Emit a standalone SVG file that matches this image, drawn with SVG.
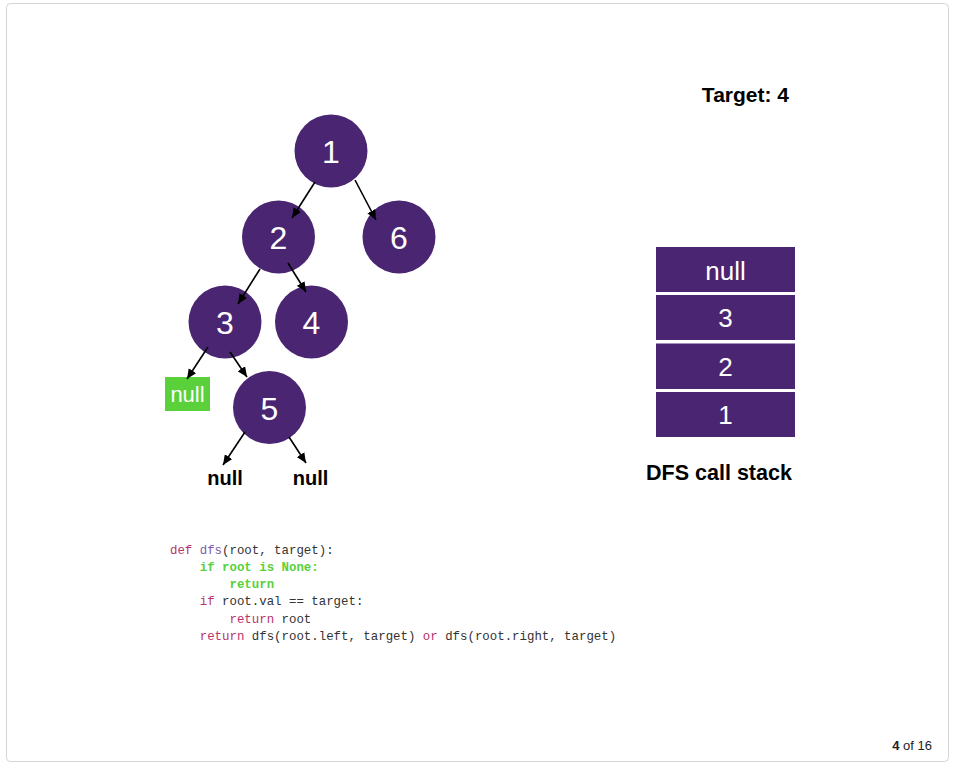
<svg xmlns="http://www.w3.org/2000/svg" width="953" height="768" viewBox="0 0 953 768">
<defs>
<marker id="ah" markerUnits="userSpaceOnUse" markerWidth="10" markerHeight="9" refX="10" refY="4.5" orient="auto">
<path d="M0,0 L10,4.5 L0,9 z" fill="#000"/>
</marker>
<style>
.node circle{fill:#4a2571;}
.node text{fill:#fff;font-family:"Liberation Sans",Arial,sans-serif;font-size:32px;text-anchor:middle;}
.edge{stroke:#000;stroke-width:1.6;fill:none;marker-end:url(#ah);}
.lbl{font-family:"Liberation Sans",Arial,sans-serif;font-weight:bold;fill:#000;}
.stk rect{fill:#4a2571;}
.stk text{fill:#fff;font-family:"Liberation Sans",Arial,sans-serif;font-size:26px;text-anchor:middle;}
.code{font-family:"Liberation Mono","DejaVu Sans Mono",monospace;font-size:12.4px;fill:#333;white-space:pre;}
.kw{fill:#b8336a;}
.fn{fill:#7e5ba6;}
.gr{fill:#5ad13a;font-weight:bold;}
</style>
</defs>
<rect x="6.5" y="3.5" width="942" height="758" rx="4" fill="#fff" stroke="#d4d4d4" stroke-width="1"/>

<g id="node1" class="node"><circle cx="331" cy="151" r="36.5"/><text x="331" y="163">1</text></g>
<g id="node2" class="node"><circle cx="278.5" cy="237" r="36.5"/><text x="278.5" y="249">2</text></g>
<g id="node6" class="node"><circle cx="399" cy="237" r="36.5"/><text x="399" y="249">6</text></g>
<g id="node3" class="node"><circle cx="225" cy="322" r="36.5"/><text x="225" y="334">3</text></g>
<g id="node4" class="node"><circle cx="311.5" cy="322" r="36.5"/><text x="311.5" y="334">4</text></g>
<g id="node5" class="node"><circle cx="269.5" cy="407.5" r="36.5"/><text x="269.5" y="419.5">5</text></g>

<g id="null-green">
<rect x="165" y="377" width="45" height="34" fill="#5ad13a"/>
<text x="187.5" y="402" fill="#fff" font-family="Liberation Sans,Arial,sans-serif" font-size="22" text-anchor="middle">null</text>
</g>
<g id="null-left"><text class="lbl" x="225" y="485" font-size="20" text-anchor="middle">null</text></g>
<g id="null-right"><text class="lbl" x="310.5" y="485" font-size="20" text-anchor="middle">null</text></g>

<g id="connectors">
<line class="edge" x1="315" y1="182" x2="292" y2="218"/>
<line class="edge" x1="355" y1="180" x2="376" y2="220"/>
<line class="edge" x1="260" y1="269" x2="238" y2="304"/>
<line class="edge" x1="288" y1="263" x2="306" y2="292"/>
<line class="edge" x1="208" y1="347" x2="187" y2="379"/>
<line class="edge" x1="230" y1="352" x2="247" y2="377"/>
<line class="edge" x1="245" y1="432" x2="223" y2="465"/>
<line class="edge" x1="289" y1="437" x2="306" y2="463"/>
</g>

<g id="target"><text class="lbl" x="789" y="102" font-size="21" text-anchor="end">Target: 4</text></g>

<g id="stack" class="stk">
<rect x="656" y="247" width="139" height="45"/><text x="725.5" y="280">null</text>
<rect x="656" y="295" width="139" height="45"/><text x="725.5" y="327">3</text>
<rect x="656" y="343.5" width="139" height="45.5"/><text x="725.5" y="375.5">2</text>
<rect x="656" y="392" width="139" height="45"/><text x="725.5" y="424">1</text>
</g>
<g id="stack-label"><text class="lbl" x="719" y="480" font-size="21.5" text-anchor="middle">DFS call stack</text></g>

<g id="code">
<text class="code" x="170" y="554"><tspan class="kw">def</tspan> <tspan class="fn">dfs</tspan>(root, target):</text>
<text class="code" x="170" y="571">    <tspan class="gr">if root is None:</tspan></text>
<text class="code" x="170" y="588">        <tspan class="gr">return</tspan></text>
<text class="code" x="170" y="605">    <tspan class="kw">if</tspan> root.val == target:</text>
<text class="code" x="170" y="622.5">        <tspan class="kw">return</tspan> root</text>
<text class="code" x="170" y="640">    <tspan class="kw">return</tspan> dfs(root.left, target) <tspan class="kw">or</tspan> dfs(root.right, target)</text>
</g>

<g id="pager"><text x="932" y="750" font-family="Liberation Sans,Arial,sans-serif" font-size="13" fill="#222" text-anchor="end"><tspan font-weight="bold">4</tspan> of 16</text></g>
</svg>
